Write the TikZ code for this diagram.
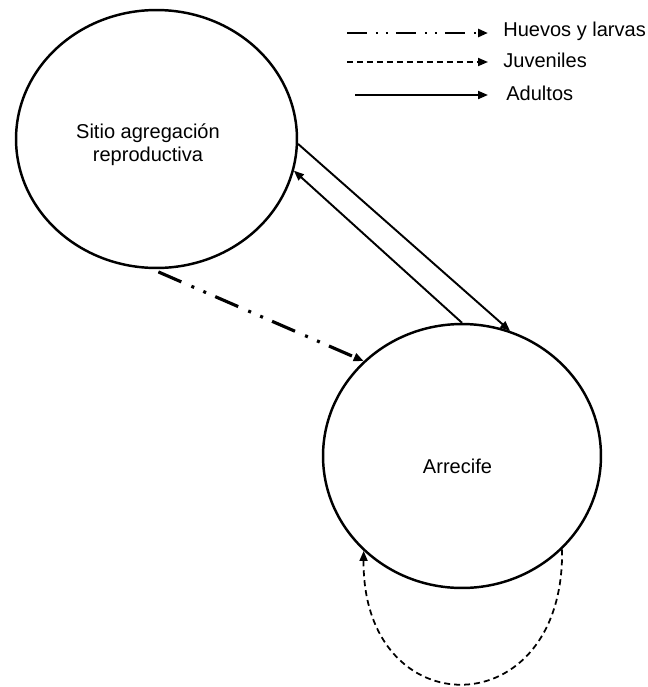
\documentclass[tikz,border=0pt]{standalone}
\usepackage{fontspec}
\setmainfont{Liberation Sans}
\usetikzlibrary{arrows.meta,shapes.geometric}
\begin{document}
\begin{tikzpicture}[x=0.02cm,y=-0.02cm,
  zone/.style={ellipse,draw,line width=1.4pt,inner sep=0pt},
  lbl/.style={font=\fontsize{11.4}{13.2}\selectfont,align=center,inner sep=0pt},
  tip/.style={-{Triangle[length=0.2cm,width=0.16cm]}},
  adult/.style={tip,line width=1.1pt},
  juvenile/.style={tip,line width=1.0pt,dash pattern=on 0.12cm off 0.08cm},
  larva/.style={tip,line width=1.8pt,dash pattern=on 0.5cm off 0.22cm on 0.06cm off 0.2cm on 0.06cm off 0.2cm},
  larvakey/.style={tip,line width=1.5pt,dash pattern=on 0.4cm off 0.18cm on 0.04cm off 0.16cm on 0.04cm off 0.16cm}]
\useasboundingbox (0,0) rectangle (648,687);

% the two places
\node[zone,minimum width=5.62cm,minimum height=5.16cm] (sitio) at (156.5,139) {};
\node[zone,minimum width=5.56cm,minimum height=5.28cm] (arrecife) at (462,456) {};
\node[lbl] (sitiotxt) at (148,145) {Sitio agregación\\reproductiva};
\node[lbl] (arrtxt) at (457.5,466) {Arrecife};

% adult movements between the two places
\draw[adult] (sitio.-2) -- (arrecife.69);
\draw[adult] (arrecife.90) -- (sitio.-13.5);

% eggs and larvae drift
\draw[larva,shorten <=0.14cm] (sitio.-92.7) -- (arrecife.136.5);

% juveniles return to the reef
\draw[juvenile] (arrecife.-43.8) .. controls (565,728) and (362,728) .. (arrecife.224.4);

% legend
\coordinate (l1a) at (347,33);  \coordinate (l1b) at (488,33);
\coordinate (l2a) at (347,62);  \coordinate (l2b) at (488,62);
\coordinate (l3a) at (355,95);  \coordinate (l3b) at (488,95);
\draw[larvakey] (l1a) -- (l1b);
\draw[juvenile] (l2a) -- (l2b);
\draw[adult] (l3a) -- (l3b);
\node[lbl,anchor=base west] (t1) at (503,36) {Huevos y larvas};
\node[lbl,anchor=base west] (t2) at (503,67) {Juveniles};
\node[lbl,anchor=base west] (t3) at (506,100) {Adultos};
\end{tikzpicture}
\end{document}
